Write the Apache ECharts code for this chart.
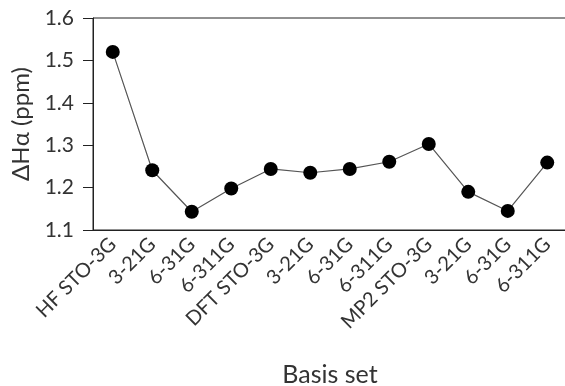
<!DOCTYPE html>
<html><head><meta charset="utf-8">
<script src="https://cdn.jsdelivr.net/npm/echarts@6/dist/echarts.min.js"></script>
<style>html,body{margin:0;padding:0;background:#fff}#c{width:565px;height:386px}</style>
</head><body><div id="c"></div>
<script>
const categories = ['HF STO-3G','3-21G','6-31G','6-311G','DFT STO-3G','3-21G','6-31G','6-311G','MP2 STO-3G','3-21G','6-31G','6-311G'];
const values = [1.52, 1.241, 1.143, 1.198, 1.244, 1.235, 1.244, 1.261, 1.303, 1.190, 1.145, 1.259];
const yTicks = [1.1, 1.2, 1.3, 1.4, 1.5, 1.6];
const FONT = 'Lato';
const chart = echarts.init(document.getElementById('c'), null, {renderer:'canvas'});
chart.setOption({
  animation:false,
  grid:{left:93, top:18, width:474, height:212, show:true, borderColor:'#222', borderWidth:1, containLabel:false, outerBoundsMode:'none'},
  xAxis:{type:'category', data:categories, boundaryGap:true,
    axisLine:{lineStyle:{color:'#222', width:1}},
    axisTick:{alignWithLabel:true, length:10, lineStyle:{color:'#222'}},
    axisLabel:{rotate:45, fontFamily:FONT, fontSize:20, color:'#333', margin:11, interval:0},
    name:'Basis set', nameLocation:'middle', nameGap:132,
    nameTextStyle:{fontFamily:FONT, fontSize:25, color:'#333'}},
  yAxis:{type:'value', min:1.1, max:1.6, interval:0.1,
    axisLine:{show:true, lineStyle:{color:'#222', width:1}},
    axisTick:{show:true, length:10, lineStyle:{color:'#222'}},
    splitLine:{show:false},
    axisLabel:{fontFamily:FONT, fontSize:21, color:'#333', margin:19, formatter:v=>v.toFixed(1)},
    name:'ΔHα (ppm)', nameLocation:'middle', nameGap:60, nameRotate:90,
    nameTextStyle:{fontFamily:FONT, fontSize:24, color:'#333'}},
  series:[{type:'line', data:values, symbol:'circle', symbolSize:14,
    itemStyle:{color:'#000'}, lineStyle:{color:'#555', width:1.2}}]
});
</script></body></html>
